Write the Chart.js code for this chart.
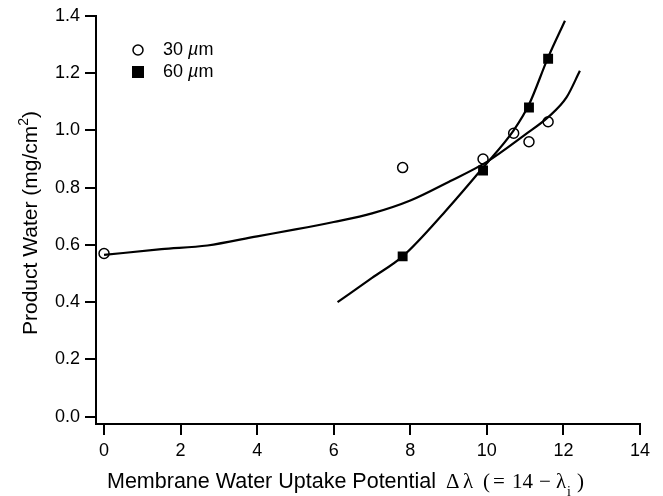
<!DOCTYPE html>
<html>
<head>
<meta charset="utf-8">
<script src="https://cdn.jsdelivr.net/npm/chart.js@4"></script>
<style>
  html, body { margin: 0; padding: 0; background: #fff; }
  #wrap { width: 663px; height: 496px; }
</style>
</head>
<body>
<div id="wrap"><canvas id="mycanvas" width="663" height="496"></canvas></div>
<script>
// measured points
var x30 = [0, 7.8, 9.9, 10.7, 11.1, 11.6];
var y30 = [0.57, 0.87, 0.90, 0.99, 0.96, 1.03];
var x60 = [7.8, 9.9, 11.1, 11.6];
var y60 = [0.56, 0.86, 1.08, 1.25];

// fitted curves
var fit30x = [0, 1.5, 2.7, 4, 5, 6, 7, 8, 9, 10, 11, 11.6, 12.08, 12.43];
var fit30y = [0.565, 0.585, 0.598, 0.63, 0.654, 0.68, 0.71, 0.755, 0.82, 0.89, 0.985, 1.046, 1.115, 1.208];
var fit60x = [6.1, 7, 7.8, 8.9, 9.9, 10.7, 11.1, 11.6, 12.04];
var fit60y = [0.40, 0.485, 0.56, 0.715, 0.87, 1.0, 1.09, 1.255, 1.383];

var xTicks = [0, 2, 4, 6, 8, 10, 12, 14];
var yTicks = [0, 0.2, 0.4, 0.6, 0.8, 1.0, 1.2, 1.4];

function pts(xs, ys) {
	var out = [];
	for (var i in xs) out.push({x: xs[i], y: ys[i]});
	return out;
}

var sans = "'Liberation Sans', Arial, sans-serif";
var serif = "'Liberation Serif', 'Times New Roman', serif";

// draws titles and the in-plot legend
var extras = {
	id: 'extras',
	afterDraw: function(chart) {
		var ctx = chart.ctx;
		ctx.save();
		ctx.fillStyle = '#000';
		ctx.strokeStyle = '#000';

		// legend
		ctx.lineWidth = 1.5;
		ctx.beginPath();
		ctx.arc(138, 50, 5, 0, Math.PI * 2);
		ctx.stroke();
		ctx.fillRect(132, 66, 12, 12);
		ctx.textBaseline = 'middle';
		var rows = [['30 ', 50], ['60 ', 72]];
		rows.forEach(function(r) {
			var x = 163;
			ctx.font = '18px ' + sans;
			ctx.fillText(r[0], x, r[1]);
			x += ctx.measureText(r[0]).width;
			ctx.font = 'italic 18px ' + sans;
			ctx.fillText('\u00b5', x, r[1]);
			x += ctx.measureText('\u00b5').width;
			ctx.font = '18px ' + sans;
			ctx.fillText('m', x, r[1]);
		});

		// x title: sans part, then the serif formula placed glyph by glyph
		ctx.textBaseline = 'alphabetic';
		var base = 488;
		ctx.font = '21.5px ' + sans;
		ctx.fillText('Membrane Water Uptake Potential', 107, base);
		ctx.font = '21px ' + serif;
		var parts = [['\u0394', 446], ['\u03bb', 463], ['(', 483], ['=', 493], ['14', 512], ['\u2212', 539], ['\u03bb', 556], [')', 577]];
		parts.forEach(function(p) { ctx.fillText(p[0], p[1], base); });
		ctx.font = '14px ' + serif;
		ctx.fillText('i', 567, base + 8);

		// y title
		ctx.translate(37, 223);
		ctx.rotate(-Math.PI / 2);
		ctx.font = '21px ' + sans;
		var a = 'Product Water (mg/cm', b = '2', c = ')';
		var wa = ctx.measureText(a).width, wc = ctx.measureText(c).width;
		ctx.font = '14px ' + sans;
		var wb = ctx.measureText(b).width;
		var sx = -(wa + wb + wc) / 2;
		ctx.font = '21px ' + sans;
		ctx.fillText(a, sx, 0);
		ctx.font = '14px ' + sans;
		ctx.fillText(b, sx + wa, -9);
		ctx.font = '21px ' + sans;
		ctx.fillText(c, sx + wa + wb, 0);
		ctx.restore();
	}
};

var ctx = document.getElementById('mycanvas');

var chart = new Chart(ctx, {
	type: 'scatter',
	data: {
		datasets: [
			{
				label: '30 um fit',
				data: pts(fit30x, fit30y),
				showLine: true,
				borderColor: '#000',
				borderWidth: 2.2,
				pointRadius: 0,
				cubicInterpolationMode: 'monotone'
			},
			{
				label: '60 um fit',
				data: pts(fit60x, fit60y),
				showLine: true,
				borderColor: '#000',
				borderWidth: 2.2,
				pointRadius: 0,
				cubicInterpolationMode: 'monotone'
			},
			{
				label: '30 um',
				data: pts(x30, y30),
				pointStyle: 'circle',
				pointRadius: 5,
				borderWidth: 1.5,
				borderColor: '#000',
				backgroundColor: '#fff'
			},
			{
				label: '60 um',
				data: pts(x60, y60),
				pointStyle: 'rect',
				pointRadius: 7,
				borderWidth: 0,
				borderColor: '#000',
				backgroundColor: '#000'
			}
		]
	},
	options: {
		responsive: false,
		animation: false,
		events: [],
		layout: { padding: { left: 0, top: 15, right: 23, bottom: 0 } },
		plugins: { legend: { display: false }, tooltip: { enabled: false } },
		scales: {
			x: {
				type: 'linear',
				min: -0.21,
				max: 14,
				afterBuildTicks: function(s) { s.ticks = xTicks.map(function(v) { return {value: v}; }); },
				afterFit: function(s) { s.height = 72; },
				border: { display: true, color: '#000', width: 2 },
				grid: { drawOnChartArea: false, drawTicks: true, tickLength: 11, color: '#000', lineWidth: 2 },
				ticks: { color: '#000', padding: 5, maxRotation: 0, font: { family: sans, size: 18 } }
			},
			y: {
				type: 'linear',
				min: -0.0254,
				max: 1.4,
				afterBuildTicks: function(s) { s.ticks = yTicks.map(function(v) { return {value: v}; }); },
				afterFit: function(s) { s.width = 96; },
				border: { display: true, color: '#000', width: 2 },
				grid: { drawOnChartArea: false, drawTicks: true, tickLength: 11, color: '#000', lineWidth: 2 },
				ticks: {
					color: '#000', padding: 5, font: { family: sans, size: 18 },
					callback: function(v) { return v.toFixed(1); }
				}
			}
		}
	},
	plugins: [extras]
});
</script>
</body>
</html>
